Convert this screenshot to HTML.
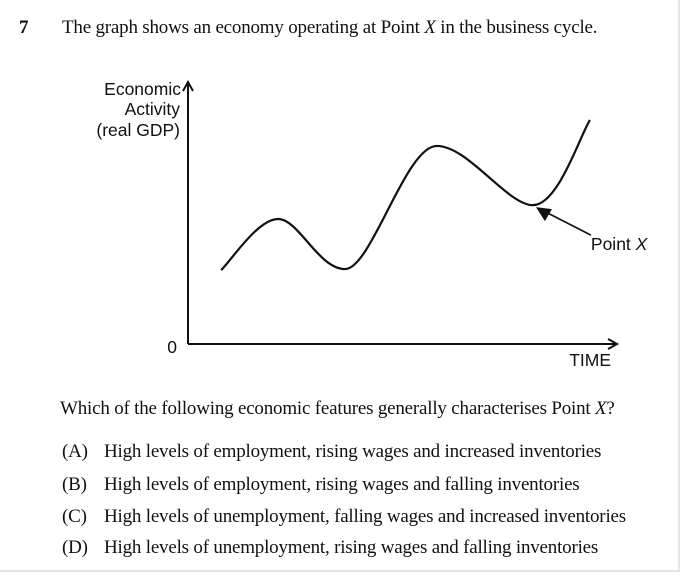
<!DOCTYPE html>
<html><head><meta charset="utf-8"><style>
body{margin:0;background:#fff;}
#wrap{position:relative;width:682px;height:574px;overflow:hidden;background:#fff;font-family:"Liberation Serif",serif;color:#111;}
.t{position:absolute;font-size:19px;white-space:nowrap;letter-spacing:-0.2px;}
.o{position:absolute;left:42px;top:0;}
svg{position:absolute;left:0;top:0;}
</style></head><body>
<div id="wrap">
<div class="t" style="left:19px;top:17px;font-weight:bold;">7</div>
<div class="t" style="left:62px;top:17px;">The graph shows an economy operating at Point <i>X</i> in the business cycle.</div>
<svg width="682" height="574" id="chart"></svg>
<div class="t" style="left:60px;top:398px;">Which of the following economic features generally characterises Point <i>X</i>?</div>
<div class="t" style="left:62px;top:441px;">(A)<span class="o">High levels of employment, rising wages and increased inventories</span></div>
<div class="t" style="left:62px;top:474px;">(B)<span class="o">High levels of employment, rising wages and falling inventories</span></div>
<div class="t" style="left:62px;top:506px;">(C)<span class="o">High levels of unemployment, falling wages and increased inventories</span></div>
<div class="t" style="left:62px;top:537px;">(D)<span class="o">High levels of unemployment, rising wages and falling inventories</span></div>
</div>
<script>
const times=[0.77,2.1,3.66,5.8,8.04,9.37];
const activity=[28.2,47.7,28.6,75.6,53,85.5];
const pointXIndex=4;
const NS="http://www.w3.org/2000/svg";
const svg=document.getElementById('chart');
const X0=188,X1=617,Y0=344,Y1=82;
const xs=t=>X0+t*(X1-X0)/10;
const ys=a=>Y0-a*(Y0-Y1)/100;
function mk(tag,attrs,parent){const e=document.createElementNS(NS,tag);for(const k in attrs)e.setAttribute(k,attrs[k]);(parent||svg).appendChild(e);return e;}
let f1=mk('line',{x1:679,y1:0,x2:679,y2:572,stroke:'#ccc','stroke-width':1});


let f2=mk('line',{x1:0,y1:571,x2:679,y2:571,stroke:'#ccc','stroke-width':1});


let ya=mk('path',{d:`M${X0} ${Y0} L${X0} ${Y1} M${X0-5} ${Y1+9} L${X0} ${Y1} L${X0+5} ${Y1+9}`,stroke:'#111','stroke-width':2,fill:'none'});


let xa=mk('path',{d:`M${X0} ${Y0} L${X1} ${Y0} M${X1-9} ${Y0-5} L${X1} ${Y0} L${X1-9} ${Y0+5}`,stroke:'#111','stroke-width':2,fill:'none'});


function txt(s,x,y,anchor,name){const e=mk('text',{x:x,y:y,'text-anchor':anchor,'font-family':'Liberation Sans, sans-serif','font-size':17.5,fill:'#111'});e.innerHTML=s;return e;}
txt('Economic',181,95,'end','y-axis-title-line1');
txt('Activity',180,115,'end','y-axis-title-line2');
txt('(real GDP)',180,136,'end','y-axis-title-line3');
txt('0',177,353,'end','origin-label');
txt('TIME',611,366,'end','x-axis-title');
const P=times.map((t,i)=>[xs(t),ys(activity[i])]);
let d=`M${P[0][0]} ${P[0][1]}`;
for(let i=0;i<P.length-1;i++){const p0=P[Math.max(0,i-1)],p1=P[i],p2=P[i+1],p3=P[Math.min(P.length-1,i+2)];
const k=6;const c1=[p1[0]+(p2[0]-p0[0])/k,p1[1]+(p2[1]-p0[1])/k];const c2=[p2[0]-(p3[0]-p1[0])/k,p2[1]-(p3[1]-p1[1])/k];
if(i>0&&i<P.length-1){c1[1]=p1[1];}
if(i+1<P.length-1){c2[1]=p2[1];}
d+=` C${c1[0]} ${c1[1]} ${c2[0]} ${c2[1]} ${p2[0]} ${p2[1]}`;}
let c=mk('path',{d:d,stroke:'#111','stroke-width':2.2,fill:'none'});


const px=xs(times[pointXIndex])+3,py=ys(activity[pointXIndex])+2;
let al=mk('line',{x1:px+10,y1:py+5,x2:px+55,y2:py+28,stroke:'#111','stroke-width':1.6});


let ah=mk('polygon',{points:`${px},${py} ${px+16},${py+2} ${px+9},${py+14}`,fill:'#111'});


txt('Point <tspan font-style="italic">X</tspan>',px+55,py+43,'start','point-x-label');
</script>
</body></html>
